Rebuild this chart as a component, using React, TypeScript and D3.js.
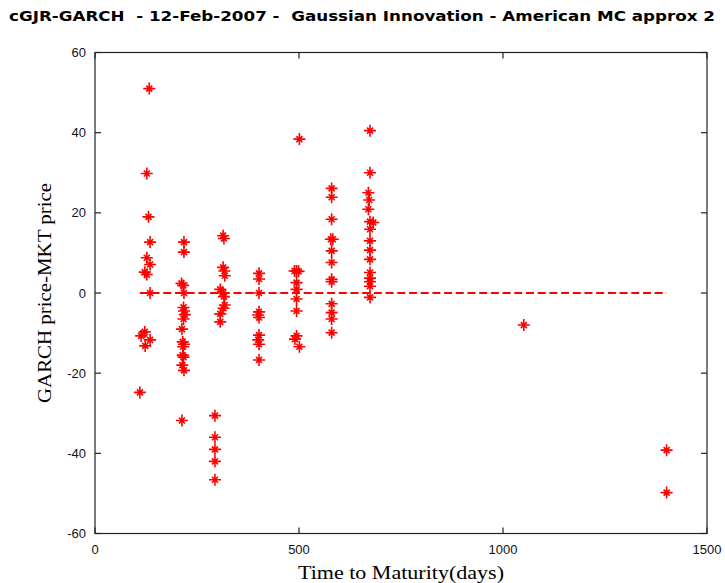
import React from "react";
import * as d3 from "d3";

const title = "cGJR-GARCH  - 12-Feb-2007 -  Gaussian Innovation - American MC approx 2";
const xLabel = "Time to Maturity(days)";
const yLabel = "GARCH price-MKT price";
const xTicks = [0, 500, 1000, 1500];
const yTicks = [-60, -40, -20, 0, 20, 40, 60];

const days = [
  133, 127, 131, 135, 127, 135, 122, 127, 135, 122, 113, 135, 123, 110,
  218, 218, 212, 216, 218, 217, 218, 220, 217, 213, 215, 218, 216, 215, 217, 214, 218, 213,
  314, 316, 314, 317, 318, 307, 314, 316, 318, 315, 307, 307,
  294, 294, 294, 294, 294,
  402, 402, 402, 402, 400, 402, 402, 400, 402, 402,
  501, 494, 489, 499, 494, 494, 494, 494, 494, 490, 501,
  580, 580, 580, 578, 583, 580, 580, 580, 580, 580, 580, 580, 580,
  674, 674, 670, 672, 670, 674, 682, 674, 674, 674, 674, 674, 674, 674, 674, 674,
  1051, 1401, 1401,
];
const diffs = [
  51.0, 29.8, 19.0, 12.7, 8.8, 7.1, 5.2, 4.6, 0.0, -9.7, -10.7, -11.7, -13.2, -24.8,
  12.7, 10.2, 2.4, 1.9, 0.0, -3.6, -4.5, -5.4, -6.5, -9.0, -12.2, -12.8, -13.4, -15.5, -16.0, -18.0, -19.3, -31.8,
  14.3, 13.6, 6.4, 5.5, 4.3, 0.9, 0.0, -0.9, -3.0, -3.8, -5.2, -7.2,
  -30.6, -36.0, -39.0, -42.0, -46.6,
  4.9, 3.5, 0.0, -4.7, -5.5, -6.1, -10.5, -11.7, -12.8, -16.7,
  38.4, 5.5, 5.5, 5.4, 2.6, 0.9, -1.5, -4.5, -10.7, -11.5, -13.4,
  26.1, 23.9, 18.4, 13.4, 13.4, 10.5, 7.6, 3.4, 2.8, -2.7, -4.9, -6.5, -9.9,
  40.5, 30.0, 25.0, 23.2, 20.9, 17.8, 17.6, 15.9, 13.0, 10.7, 8.4, 5.1, 3.7, 2.8, 1.7, -1.1,
  -8.0, -39.2, -49.8,
];

const W = 725;
const H = 583;
const L = 95;
const R = 707;
const T = 52.5;
const B = 533.5;

const star = "M-6,0H6M0,-6V6M-3,-3L3,3M-3,3L3,-3";

export default function App() {
  const x = d3.scaleLinear().domain([0, 1500]).range([L, R]);
  const y = d3.scaleLinear().domain([-60, 60]).range([B, T]);
  const minD = d3.min(days) as number;
  const maxD = d3.max(days) as number;
  const zeroLine = d3.line<number>().x((d) => x(d)).y(() => y(0))([minD, maxD]) || "";
  const axisColor = "#222";
  const tickLen = 6;
  return (
    <svg width={W} height={H} style={{ position: "absolute", left: 0, top: 0, background: "#fff" }}>
      <rect x={0} y={0} width={W} height={H} fill="#fff" />
      <text x={362} y={21} textAnchor="middle" fontFamily="'DejaVu Sans', sans-serif" fontWeight="bold" fontSize={14.5} textLength={706} lengthAdjust="spacingAndGlyphs" fill="#000" style={{ whiteSpace: "pre" }}>
        {title}
      </text>
      <path d={zeroLine} stroke="#ff0000" strokeWidth={2.2} strokeDasharray="8,3.7" fill="none" />
      {days.map((d, i) => (
        <path key={i} d={star} transform={`translate(${x(d)},${y(diffs[i])})`} stroke="#ff0000" strokeWidth={1.6} fill="none" />
      ))}
      <rect x={L} y={T} width={R - L} height={B - T} fill="none" stroke={axisColor} strokeWidth={1.2} />
      {yTicks.map((t) => (
        <g key={"y" + t}>
          <line x1={L} x2={L + tickLen} y1={y(t)} y2={y(t)} stroke={axisColor} strokeWidth={1.2} />
          <line x1={R} x2={R - tickLen} y1={y(t)} y2={y(t)} stroke={axisColor} strokeWidth={1.2} />
          <text x={L - 9} y={y(t) + 4.5} textAnchor="end" fontFamily="'Liberation Sans', Arial, sans-serif" fontSize={13} fill="#111">
            {t}
          </text>
        </g>
      ))}
      {xTicks.map((t) => (
        <g key={"x" + t}>
          <line x1={x(t)} x2={x(t)} y1={B} y2={B - tickLen} stroke={axisColor} strokeWidth={1.2} />
          <line x1={x(t)} x2={x(t)} y1={T} y2={T + tickLen} stroke={axisColor} strokeWidth={1.2} />
          <text x={x(t)} y={B + 20} textAnchor="middle" fontFamily="'Liberation Sans', Arial, sans-serif" fontSize={13} fill="#111">
            {t}
          </text>
        </g>
      ))}
      <text x={401} y={579} textAnchor="middle" fontFamily="'Liberation Serif', 'Times New Roman', serif" fontSize={19} textLength={206} lengthAdjust="spacingAndGlyphs" fill="#000">
        {xLabel}
      </text>
      <text transform={`translate(51,${(T + B) / 2}) rotate(-90)`} textAnchor="middle" fontFamily="'Liberation Serif', 'Times New Roman', serif" fontSize={19} textLength={220} lengthAdjust="spacingAndGlyphs" fill="#000">
        {yLabel}
      </text>
    </svg>
  );
}
